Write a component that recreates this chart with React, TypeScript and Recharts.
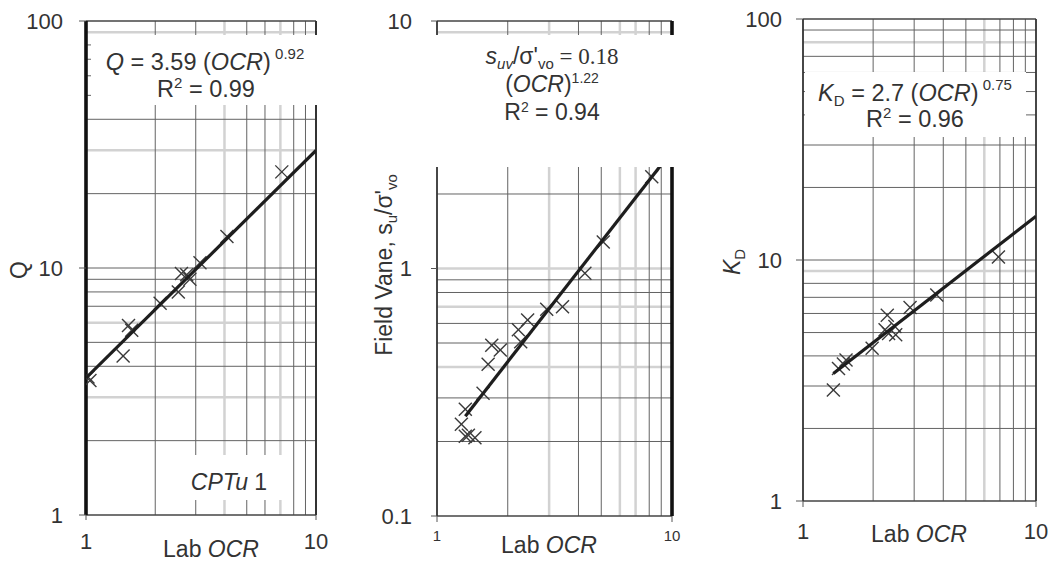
import React from 'react';
import { ScatterChart, Scatter, XAxis, YAxis, ReferenceLine } from 'recharts';

// ---------- data ----------
const cptuOcr = [1.02, 1.04, 1.45, 1.53, 1.58, 2.1, 2.52, 2.6, 2.74, 2.83, 3.13, 4.1, 7.1];
const cptuQ = [3.62, 3.5, 4.4, 5.85, 5.6, 7.2, 8.0, 9.5, 9.4, 9.0, 10.5, 13.4, 24.5];
const cptuFitOcr = [1, 10];
const cptuFitQ = [3.59, 29.9];

const vaneOcr = [1.27, 1.32, 1.32, 1.36, 1.45, 1.57, 1.65, 1.71, 1.86, 2.22, 2.27, 2.43, 2.93, 3.42, 4.26, 5.1, 8.2];
const vaneRatio = [0.235, 0.27, 0.21, 0.212, 0.207, 0.313, 0.41, 0.49, 0.468, 0.565, 0.506, 0.62, 0.685, 0.7, 0.956, 1.28, 2.35];
const vaneFitOcr = [1.32, 8.9];
const vaneFitRatio = [0.253, 2.59];

const dmtOcr = [1.35, 1.42, 1.49, 1.53, 1.98, 2.25, 2.3, 2.33, 2.48, 2.5, 2.88, 3.75, 6.9];
const dmtKd = [2.89, 3.55, 3.7, 3.85, 4.3, 5.13, 5.9, 4.96, 5.3, 4.9, 6.35, 7.16, 10.3];
const dmtFitOcr = [1.35, 10];
const dmtFitKd = [3.38, 15.2];

// tick labels and grid values
const ocrTicks = [1, 10];
const qTicks = [1, 10, 100];
const vaneTicks = [0.1, 1, 10];
const kdTicks = [1, 10, 100];
const ocrGrid = [2, 3, 4, 5, 6, 7, 8, 9];
const qGrid = [2, 3, 4, 5, 6, 7, 8, 9, 10, 20, 30, 40, 50, 60, 70, 80, 90];
const vaneGrid = [0.2, 0.3, 0.4, 0.5, 0.6, 0.7, 0.8, 0.9, 1, 2, 3, 4, 5, 6, 7, 8, 9];
const kdGrid = [2, 3, 4, 5, 6, 7, 8, 9, 10, 20, 30, 40, 50, 60, 70, 80, 90];
const cptuLightX = [4, 7];
const cptuLightY = [3, 6, 30, 90];
const vaneLightX = [3, 6, 7];
const vaneLightY = [0.4, 0.7, 1, 9];
const dmtLightX = [6];
const dmtLightY = [9, 80];

const zip = (xs: number[], ys: number[]) => xs.map((x, i) => ({ x, y: ys[i] }));

const FONT = '"Liberation Sans", Arial, Helvetica, sans-serif';
const TXT = '#333';

const XMark = (props: any) => {
  const { cx, cy } = props;
  if (cx == null || cy == null) return <g />;
  const s = 6.5;
  return (
    <g stroke="#3a3a3a" strokeWidth={1.4}>
      <line x1={cx - s} y1={cy - s} x2={cx + s} y2={cy + s} />
      <line x1={cx - s} y1={cy + s} x2={cx + s} y2={cy - s} />
    </g>
  );
};
const NoMark = () => <g />;

type PanelProps = {
  left: number; width: number; margin: any; yAxisWidth: number;
  xDomain: number[]; yDomain: number[]; xTicks: number[]; yTicks: number[];
  xGrid: number[]; yGrid: number[]; lightX: number[]; lightY: number[];
  points: { x: number; y: number }[]; fit: { x: number; y: number }[];
  borders: { left: [number, string]; right: [number, string]; top: [number, string]; bottom: [number, string] };
  yTickMargin: number; yTickSize: number; xTickMargin: number; xTickSize: number; xTickFont: number;
};

function Panel(p: PanelProps) {
  const tickStyle = { fontSize: 22, fill: TXT, fontFamily: FONT };
  return (
    <div style={{ position: 'absolute', left: p.left, top: 0 }}>
      <ScatterChart width={p.width} height={561} margin={p.margin}>
        <XAxis dataKey="x" type="number" scale="log" domain={p.xDomain} ticks={p.xTicks} allowDataOverflow
          axisLine={false} tickLine={{ stroke: '#555' }} tickSize={p.xTickSize} tickMargin={p.xTickMargin}
          tick={{ fontSize: p.xTickFont, fill: TXT, fontFamily: FONT }} height={30} interval={0} />
        <YAxis dataKey="y" type="number" scale="log" domain={p.yDomain} ticks={p.yTicks} allowDataOverflow
          axisLine={false} tickLine={{ stroke: '#555' }} tickSize={p.yTickSize} tickMargin={p.yTickMargin}
          tick={tickStyle} width={p.yAxisWidth} interval={0} />
        {p.xGrid.filter(v => p.lightX.includes(v)).map(v => (
          <ReferenceLine key={'lx' + v} x={v} stroke="#d2d2d2" strokeWidth={2.5} />
        ))}
        {p.yGrid.filter(v => p.lightY.includes(v)).map(v => (
          <ReferenceLine key={'ly' + v} y={v} stroke="#d2d2d2" strokeWidth={2.5} />
        ))}
        {p.xGrid.filter(v => !p.lightX.includes(v)).map(v => (
          <ReferenceLine key={'gx' + v} x={v} stroke="#636363" strokeWidth={1} />
        ))}
        {p.yGrid.filter(v => !p.lightY.includes(v)).map(v => (
          <ReferenceLine key={'gy' + v} y={v} stroke="#636363" strokeWidth={1} />
        ))}
        <ReferenceLine y={p.yDomain[1]} stroke={p.borders.top[1]} strokeWidth={p.borders.top[0]} />
        <ReferenceLine y={p.yDomain[0]} stroke={p.borders.bottom[1]} strokeWidth={p.borders.bottom[0]} />
        <ReferenceLine x={p.xDomain[0]} stroke={p.borders.left[1]} strokeWidth={p.borders.left[0]} />
        <ReferenceLine x={p.xDomain[1]} stroke={p.borders.right[1]} strokeWidth={p.borders.right[0]} />
        <Scatter data={p.points} shape={XMark} isAnimationActive={false} />
        <Scatter data={p.fit} shape={NoMark} line={{ stroke: '#1e1e1e', strokeWidth: 3.2 }} lineType="joint" isAnimationActive={false} />
      </ScatterChart>
    </div>
  );
}

export default function App() {
  const it = { fontStyle: 'italic' } as const;
  return (
    <div style={{ position: 'absolute', left: 0, top: 0, width: 1055, height: 561, background: '#fff', overflow: 'hidden' }}>
      <Panel left={0} width={340} margin={{ top: 21, right: 24, bottom: 16, left: 0 }} yAxisWidth={86}
        xDomain={[1, 10]} yDomain={[1, 100]} xTicks={ocrTicks} yTicks={qTicks}
        xGrid={ocrGrid} yGrid={qGrid} lightX={cptuLightX} lightY={cptuLightY}
        points={zip(cptuOcr, cptuQ)} fit={zip(cptuFitOcr, cptuFitQ)}
        borders={{ left: [3.6, '#111'], right: [2, '#333'], top: [1.5, '#444'], bottom: [1.5, '#444'] }}
        yTickSize={7} yTickMargin={16} xTickSize={5} xTickMargin={13} xTickFont={22} />
      <Panel left={340} width={360} margin={{ top: 21, right: 28, bottom: 15, left: 0 }} yAxisWidth={97}
        xDomain={[1, 10]} yDomain={[0.1, 10]} xTicks={ocrTicks} yTicks={vaneTicks}
        xGrid={ocrGrid} yGrid={vaneGrid} lightX={vaneLightX} lightY={vaneLightY}
        points={zip(vaneOcr, vaneRatio)} fit={zip(vaneFitOcr, vaneFitRatio)}
        borders={{ left: [1.8, '#333'], right: [3.6, '#111'], top: [1.5, '#444'], bottom: [1.5, '#444'] }}
        yTickSize={6} yTickMargin={19} xTickSize={6} xTickMargin={8} xTickFont={15} />
      <Panel left={700} width={355} margin={{ top: 19, right: 19, bottom: 30, left: 0 }} yAxisWidth={103}
        xDomain={[1, 10]} yDomain={[1, 100]} xTicks={ocrTicks} yTicks={kdTicks}
        xGrid={ocrGrid} yGrid={kdGrid} lightX={dmtLightX} lightY={dmtLightY}
        points={zip(dmtOcr, dmtKd)} fit={zip(dmtFitOcr, dmtFitKd)}
        borders={{ left: [1.8, '#333'], right: [1.8, '#333'], top: [1.5, '#444'], bottom: [1.5, '#444'] }}
        yTickSize={7} yTickMargin={14} xTickSize={6} xTickMargin={16} xTickFont={22} />

      <svg width={1055} height={561} style={{ position: 'absolute', left: 0, top: 0, pointerEvents: 'none' }}
        fontFamily={FONT} fill={TXT}>
        {/* white annotation boxes */}
        <rect x={91} y={35} width={232} height={70} fill="#fff" />
        <rect x={175} y={455} width={107} height={45} fill="#fff" />
        <rect x={428} y={35} width={252} height={132} fill="#fff" />
        <rect x={805} y={72} width={221} height={65} fill="#fff" />

        {/* panel 1 */}
        <text x={205} y={70} textAnchor="middle" fontSize={23.5}>
          <tspan style={it}>Q</tspan> = 3.59 (<tspan style={it}>OCR</tspan>)
          <tspan fontSize={15} dy={-11}> 0.92</tspan>
        </text>
        <text x={206} y={97} textAnchor="middle" fontSize={23.5}>
          R<tspan fontSize={15} dy={-9}>2</tspan><tspan dy={9}> = 0.99</tspan>
        </text>
        <text x={229} y={490} textAnchor="middle" fontSize={23}>
          <tspan style={it}>CPTu</tspan> 1
        </text>
        <text x={211} y={557} textAnchor="middle" fontSize={23}>
          Lab <tspan style={it}>OCR</tspan>
        </text>
        <text transform="translate(27,270) rotate(-90)" textAnchor="middle" fontSize={23}>Q</text>

        {/* panel 2 */}
        <text x={552} y={64} textAnchor="middle" fontSize={23}>
          <tspan style={it}>s</tspan><tspan style={it} fontSize={15} dy={5}>uv</tspan>
          <tspan dy={-5}>/σ'</tspan><tspan fontSize={15} dy={5}>vo</tspan>
          <tspan dy={-5} fontFamily='"Liberation Serif", "Times New Roman", serif'> = 0.18</tspan>
        </text>
        <text x={552} y={92} textAnchor="middle" fontSize={23}>
          (<tspan style={it}>OCR</tspan>)<tspan fontSize={14} dy={-9}>1.22</tspan>
        </text>
        <text x={552} y={120} textAnchor="middle" fontSize={23}>
          R<tspan fontSize={14} dy={-8}>2</tspan><tspan dy={8}>  = 0.94</tspan>
        </text>
        <text x={549} y={553} textAnchor="middle" fontSize={23}>
          Lab <tspan style={it}>OCR</tspan>
        </text>
        <text transform="translate(392,265) rotate(-90)" textAnchor="middle" fontSize={23}>
          Field Vane, s<tspan fontSize={15} dy={5}>u</tspan><tspan dy={-5}>/σ'</tspan><tspan fontSize={15} dy={5}>vo</tspan>
        </text>

        {/* panel 3 */}
        <text x={915} y={101} textAnchor="middle" fontSize={23.5}>
          <tspan style={it}>K</tspan><tspan fontSize={15} dy={5}>D</tspan><tspan dy={-5}> = 2.7 (</tspan>
          <tspan style={it}>OCR</tspan>)<tspan fontSize={15} dy={-11}> 0.75</tspan>
        </text>
        <text x={915} y={127} textAnchor="middle" fontSize={23.5}>
          R<tspan fontSize={15} dy={-9}>2</tspan><tspan dy={9}> = 0.96</tspan>
        </text>
        <text x={919} y={542} textAnchor="middle" fontSize={23}>
          Lab <tspan style={it}>OCR</tspan>
        </text>
        <text transform="translate(740,262) rotate(-90)" textAnchor="middle" fontSize={23}>
          <tspan style={it}>K</tspan><tspan fontSize={15} dy={5}>D</tspan>
        </text>
      </svg>
    </div>
  );
}
